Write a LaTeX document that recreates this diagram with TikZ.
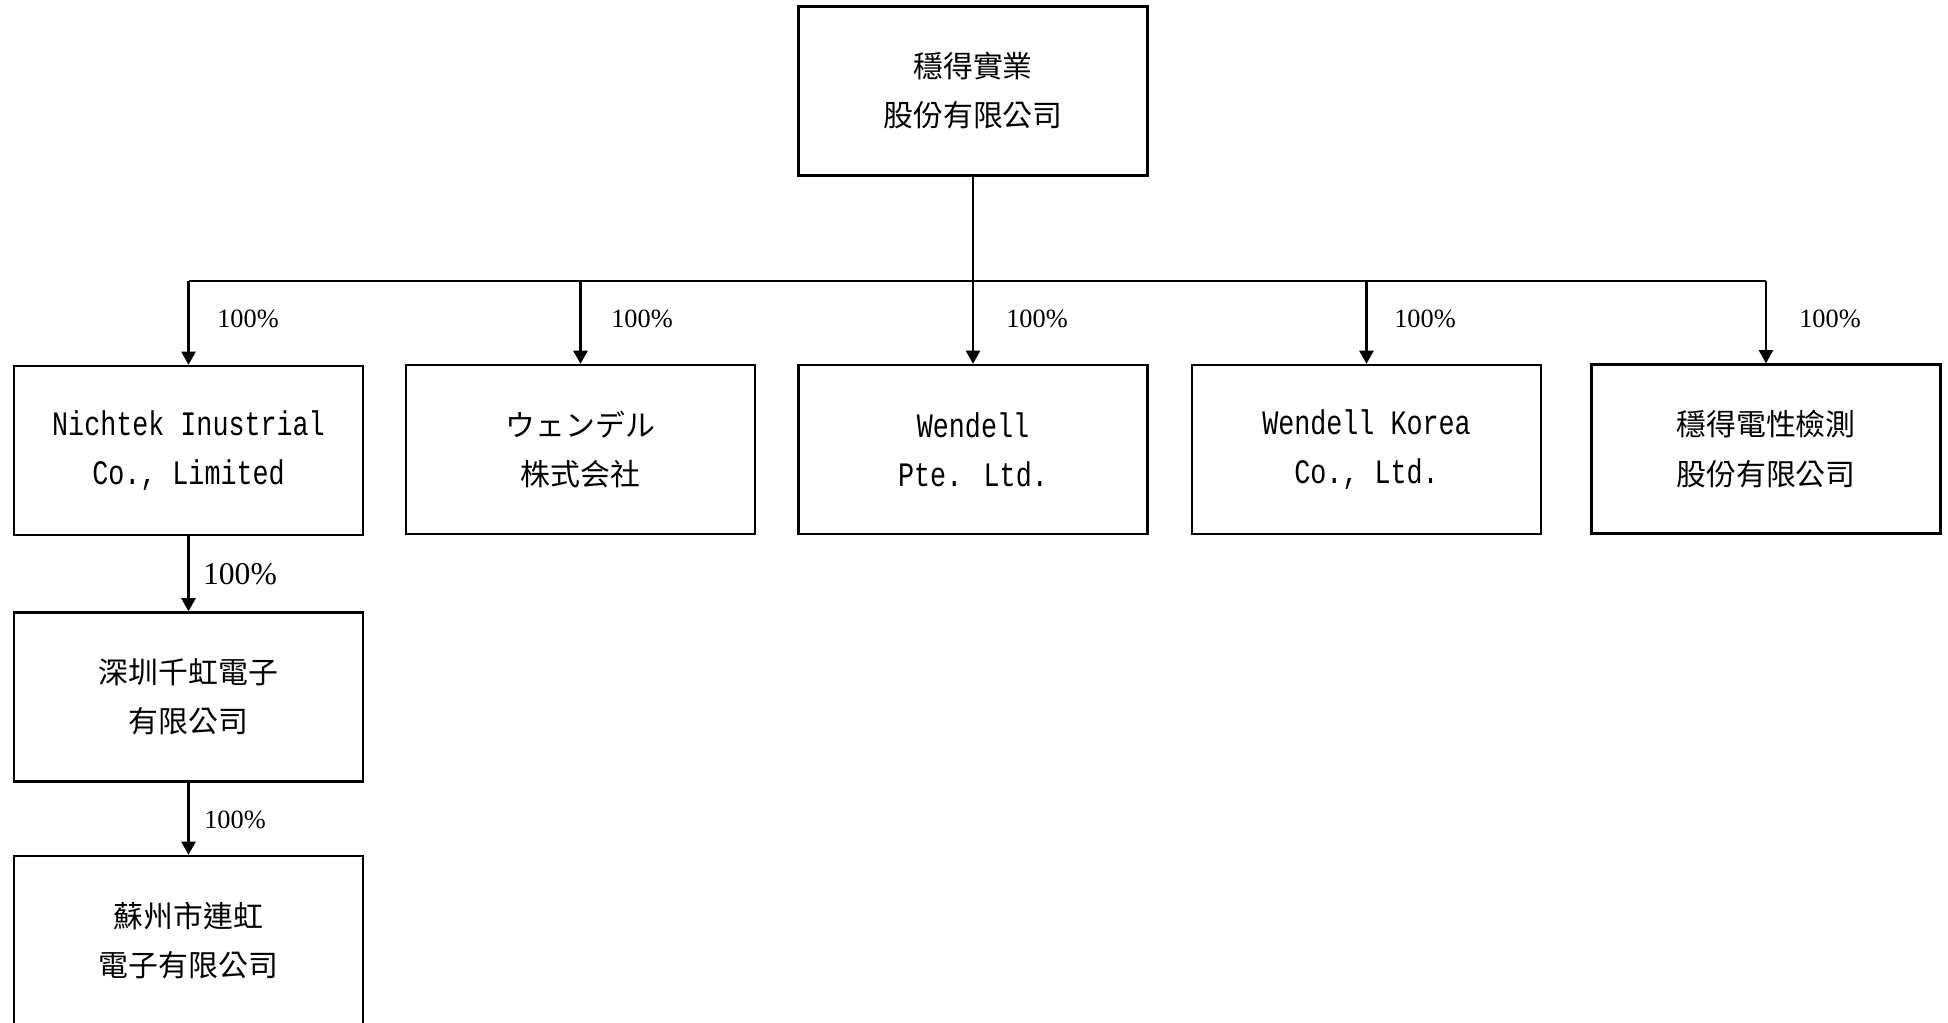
\documentclass[tikz,border=0pt]{standalone}
\usepackage{fontspec}
\setmainfont{Liberation Mono}[FakeStretch=0.78]
\newfontfamily\cjk{Noto Sans CJK TC}
\newfontfamily\pct{Liberation Serif}
\usetikzlibrary{arrows.meta,positioning}
\usetikzlibrary{calc}

\tikzset{
  cobox/.style={draw,line width=1.4pt,minimum width=6.98cm,minimum height=3.38cm,
    align=center,inner sep=0pt,font=\fontsize{19.5}{28}\selectfont},
  share/.style={font=\pct\fontsize{15}{18}\selectfont,inner sep=0pt},
  own/.style={-{Triangle[width=8pt,length=7.5pt]},line width=1.4pt}
}

\begin{document}
\begin{tikzpicture}[x=0.02cm,y=-0.02cm,line width=1.4pt]
\clip (0,0) rectangle (1948,1022);
\node[cobox] (parent) at (973,91) {\cjk\fontsize{17}{28}\selectfont 穩得實業\\\cjk\fontsize{17}{28}\selectfont 股份有限公司};
\coordinate (bus) at (973,281);
% first tier
\node[cobox] (nichtek) at (188.5,450.5) {Nichtek Inustrial\\Co., Limited};
\node[cobox] (wjp) at (580.5,449.5) {\cjk\fontsize{17}{28}\selectfont ウェンデル\\\cjk\fontsize{17}{28}\selectfont 株式会社};
\node[cobox] (wsg) at (973,449.5) {Wendell\\Pte. Ltd.};
\node[cobox] (wkr) at (1366.5,449.5) {Wendell Korea\\Co., Ltd.};
\node[cobox] (wtest) at (1766,449) {\cjk\fontsize{17}{28}\selectfont 穩得電性檢測\\\cjk\fontsize{17}{28}\selectfont 股份有限公司};
% china tier
\node[cobox] (sz) at (188.5,697) {\cjk\fontsize{17}{28}\selectfont 深圳千虹電子\\\cjk\fontsize{17}{28}\selectfont 有限公司};
\node[cobox] (su) at (188.5,940.5) {\cjk\fontsize{17}{28}\selectfont 蘇州市連虹\\\cjk\fontsize{17}{28}\selectfont 電子有限公司};
\draw (parent) -- (bus);
\draw (nichtek.north |- bus) -- (wtest.north |- bus);
\foreach \x in {nichtek,wjp,wsg,wkr,wtest} {
  \draw[own] (\x.north |- bus) -- (\x.north);
}
\draw[own] (nichtek) -- (sz);
\draw[own] (sz) -- (su);
\node[share] (p1) at (248,319) {100\%};
\node[share] (p2) at (642,319) {100\%};
\node[share] (p3) at (1037,319) {100\%};
\node[share] (p4) at (1425,319) {100\%};
\node[share] (p5) at (1830,319) {100\%};
\node[share,font=\pct\fontsize{18}{20}\selectfont] (p6) at (240,574) {100\%};
\node[share] (p7) at (235,820) {100\%};
\end{tikzpicture}
\end{document}
